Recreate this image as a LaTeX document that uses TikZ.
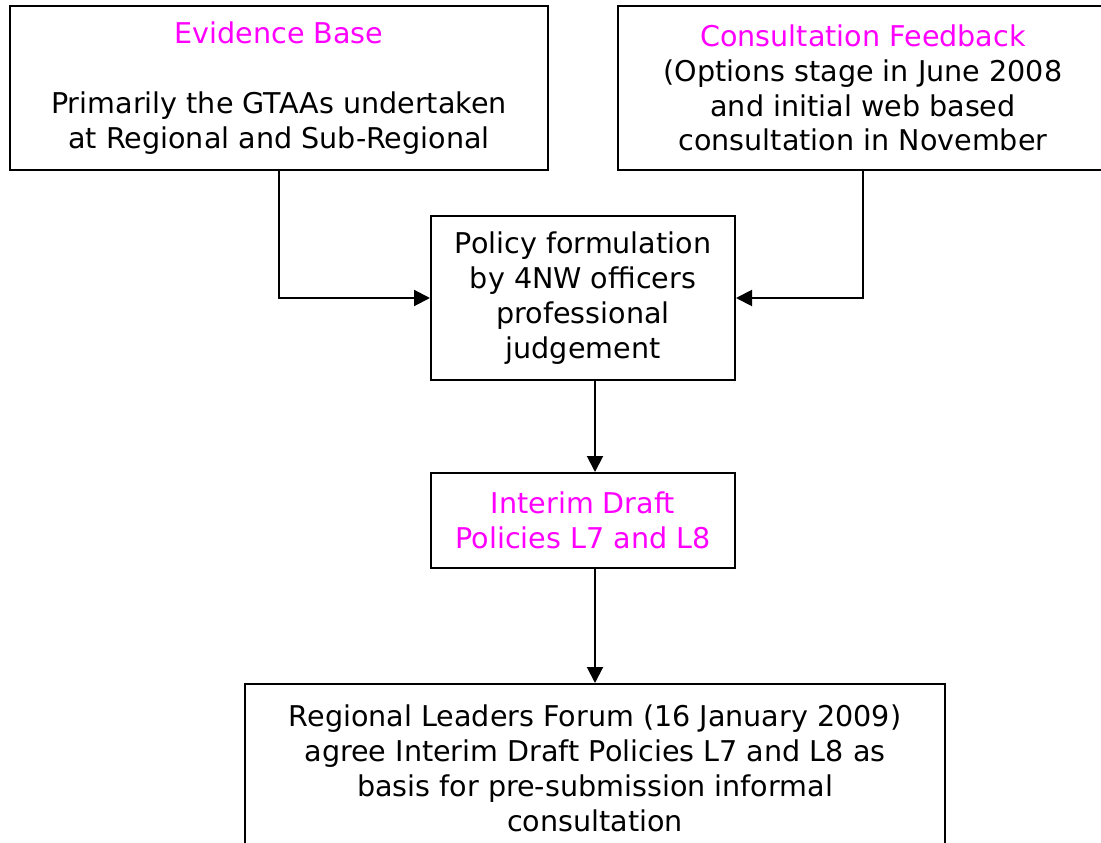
\documentclass[tikz,border=0pt]{standalone}
\usepackage{fontspec}
\setmainfont{DejaVu Sans}
\usetikzlibrary{positioning, calc, arrows.meta}

\definecolor{hot}{RGB}{255,0,255}
\tikzset{
	box/.style={draw, line width=2pt, align=center, inner sep=0pt, font=\fontsize{28.6}{34.8}\selectfont},
	flow/.style={line width=2pt, -{Triangle[length=16pt, width=16pt]}}
}

\begin{document}
\begin{tikzpicture}[x=1pt, y=-1pt]
\useasboundingbox (0,0) rectangle (1101,843);
\clip (0,0) rectangle (1101,843);
\node[box, minimum width=538pt, minimum height=164pt] (ev) at (279, 88)
	{\textcolor{hot}{Evidence Base}\\[34.8pt]Primarily the GTAAs undertaken\\at Regional and Sub-Regional};
\node[box, minimum width=490pt, minimum height=164pt] (cons) at (863, 88)
	{\textcolor{hot}{Consultation Feedback}\\(Options stage in June 2008\\and initial web based\\consultation in November};
\node[box, minimum width=304pt, minimum height=164pt] (pol) at (583, 298)
	{Policy formulation\\by 4NW officers\\professional\\judgement};
\node[box, minimum width=304pt, minimum height=95pt] (intm) at (583, 520.5)
	{\textcolor{hot}{Interim Draft}\\\textcolor{hot}{Policies L7 and L8}};
\node[box, minimum width=700pt, minimum height=169pt] (rlf) at (595, 768.5)
	{Regional Leaders Forum (16 January 2009)\\agree Interim Draft Policies L7 and L8 as\\basis for pre-submission informal\\consultation};
\draw[flow] (ev.south) |- (pol.west);
\draw[flow] (cons.south) |- (pol.east);
\draw[flow] ([xshift=12pt]pol.south) -- ([xshift=12pt]intm.north);
\draw[flow] ([xshift=12pt]intm.south) -- (rlf.north);
\end{tikzpicture}
\end{document}
